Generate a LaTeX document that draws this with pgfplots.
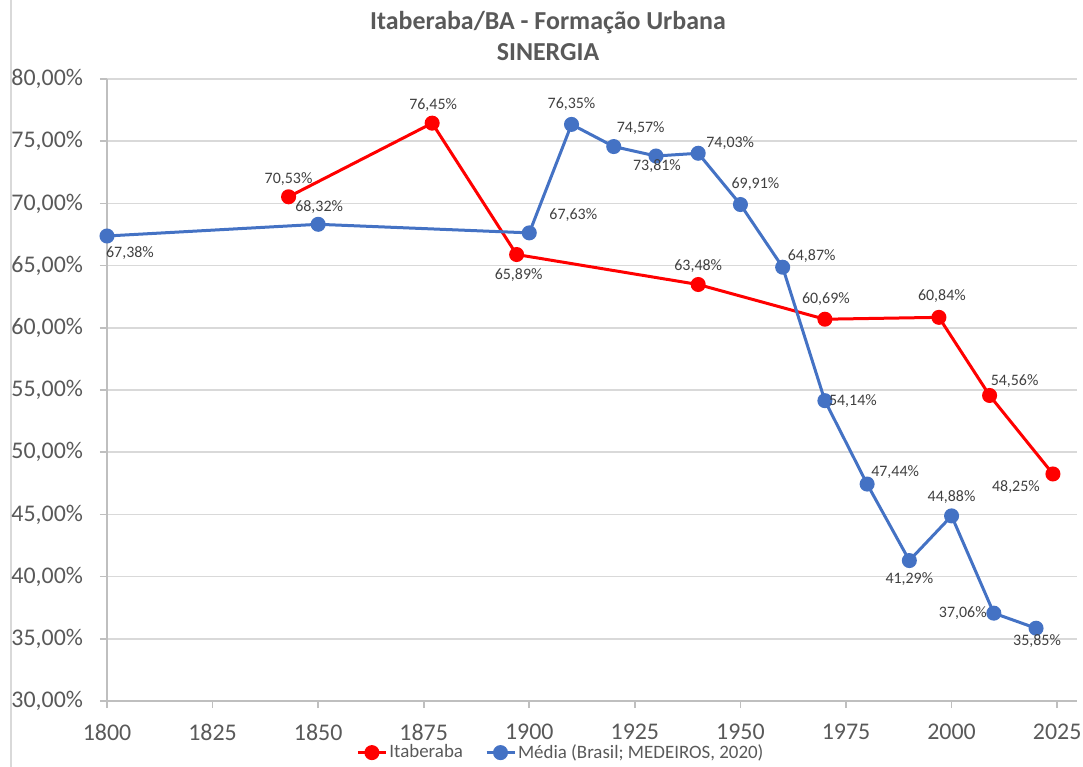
\documentclass[border=0pt]{standalone}
\usepackage{fontspec}
\setmainfont{Carlito}
\usepackage{pgfplots}
\pgfplotsset{compat=1.18}
\definecolor{itared}{HTML}{FF0000}
\definecolor{medblue}{HTML}{4472C4}
\definecolor{txtgray}{HTML}{595959}
\definecolor{lblgray}{HTML}{404040}
\definecolor{gridgray}{HTML}{D9D9D9}
\definecolor{axgray}{HTML}{BFBFBF}
\begin{document}
\begin{tikzpicture}
\path[use as bounding box] (-53.5bp,-33bp) rectangle (488bp,350.5bp);
\draw[gridgray, line width=0.8bp] (-48bp,-33bp) -- (-48bp,350.5bp);
\node[font=\fontsize{13}{15}\selectfont\bfseries, text=txtgray] at (220.5bp,339bp) {Itaberaba/BA - Formação Urbana};
\node[font=\fontsize{13}{15}\selectfont\bfseries, text=txtgray] at (220.5bp,324.5bp) {SINERGIA};
\begin{axis}[
  at={(0,0)}, anchor=south west,
  scale only axis, width=485bp, height=311bp,
  xmin=1800, xmax=2029.7, ymin=30, ymax=80,
  xtick={1800,1825,...,2025}, ytick={30,35,...,80},
  axis lines=left, axis line style={-, axgray, line width=0.8bp},
  ymajorgrids, grid style={gridgray, line width=0.8bp},
  tick align=outside, major tick length=3.5bp, tick style={axgray, line width=0.8bp},
  /pgf/number format/assume math mode=true,
  /pgf/number format/1000 sep={},
  tick label style={font=\fontsize{12}{14}\selectfont, text=txtgray},
  yticklabel style={xshift=-5bp},
  xticklabel style={yshift=-4.5bp},
  yticklabel={\pgfmathprintnumber[fixed,fixed zerofill,precision=2,use comma]{\tick}\%},
  clip=false,
  nodes near coords={\pgfmathprintnumber[fixed,fixed zerofill,precision=2,use comma,assume math mode=true]{\pgfplotspointmeta}\%},
  visualization depends on={value \thisrow{dx} \as \dx},
  visualization depends on={value \thisrow{dy} \as \dy},
  every node near coord/.append style={anchor=center, xshift=\dx bp, yshift=\dy bp, font=\fontsize{8}{9}\selectfont, text=lblgray, inner sep=0pt},
  legend style={at={(axis description cs:0.468,-0.083)}, anchor=center, draw=none, fill=none,
    legend columns=2, font=\fontsize{9.5}{11}\selectfont, text=txtgray,
    nodes={inner xsep=1bp},
    /tikz/every even column/.append style={column sep=10bp}},
  legend image code/.code={\draw[mark repeat=2,mark phase=2] plot coordinates {(0bp,0bp)(7bp,0bp)(14bp,0bp)};},
]
\addplot[itared, line width=1.5bp, mark=*, mark size=3bp, mark options={fill=itared, draw=itared}] table[x=x,y=y] {
x y dx dy
1843 70.53 0 9
1877 76.45 0.5 9
1897 65.89 1 -10.5
1940 63.48 0 9
1970 60.69 0.5 10
1997 60.84 1.5 10.5
2009 54.56 12.5 7
2024 48.25 -18.5 -6.5
};
\addlegendentry{Itaberaba}
\addplot[medblue, line width=1.5bp, mark=*, mark size=3bp, mark options={fill=medblue, draw=medblue}] table[x=x,y=y] {
x y dx dy
1800 67.38 11.5 -8.5
1850 68.32 0.5 8.5
1900 67.63 22 9
1910 76.35 0 10
1920 74.57 13.5 9
1930 73.81 0.5 -5
1940 74.03 16 5
1950 69.91 7.5 10
1960 64.87 14.5 5.5
1970 54.14 14 0
1980 47.44 14 6
1990 41.29 0 -9.5
2000 44.88 0 9.5
2010 37.06 -15.5 0
2020 35.85 0.5 -6.5
};
\addlegendentry{Média (Brasil; MEDEIROS, 2020)}
\end{axis}
\end{tikzpicture}
\end{document}
